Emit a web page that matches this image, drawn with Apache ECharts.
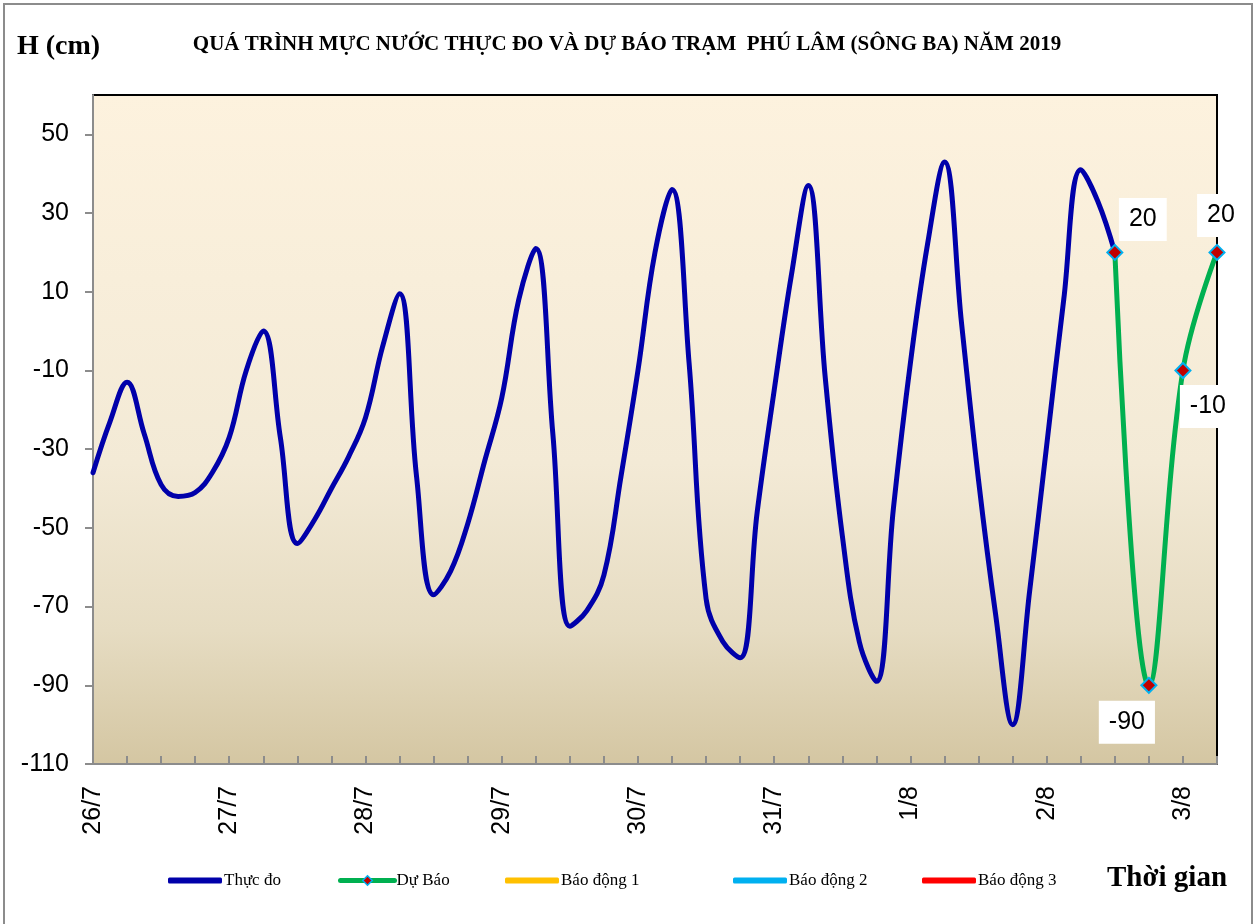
<!DOCTYPE html>
<html>
<head>
<meta charset="utf-8">
<script src="https://cdn.jsdelivr.net/npm/echarts@6/dist/echarts.min.js"></script>
<style>
  html, body { margin: 0; padding: 0; background: #fff; }
  #chart { width: 1257px; height: 924px; }
</style>
</head>
<body>
<div id="chart"></div>
<script>
// Phú Lâm (sông Ba) water level, observed + forecast, 26/7 – 3/8/2019. x = hours since 26/7 00h.
const DAY_LABELS = ["26/7", "27/7", "28/7", "29/7", "30/7", "31/7", "1/8", "2/8", "3/8"];
const Y_TICKS = [-110, -90, -70, -50, -30, -10, 10, 30, 50];

const OBS_HOURS = [0, 3, 6, 9, 12, 15, 18, 21, 24, 27, 30, 33, 36, 39, 42, 45, 48, 51, 54, 57,
  60, 63, 66, 69, 72, 75, 78, 81, 84, 87, 90, 93, 96, 99, 102, 105, 108, 111, 114, 117,
  120, 123, 126, 129, 132, 135, 138, 141, 144, 147, 150, 153, 156, 159, 162, 165, 168, 171, 174, 177, 180];
const OBS_LEVEL = [-36, -23, -13, -26, -39, -42, -41, -36, -27, -10, 0, -27, -54, -48, -40, -32, -22, -4, 9.5, -37,
  -67, -61, -49, -33, -17, 8, 21, -26, -75, -71, -62, -37, -10, 20, 36, -8, -68, -79, -83, -46,
  -15, 14, 37, -12, -52, -79, -89, -45, -8, 22, 43, 2, -38, -72, -100, -66, -29, 8, 41, 33, 20];

const FC_HOURS = [180, 186, 192, 198];
const FC_LEVEL = [20, -90, -10, 20];

const SERIES_NAMES = ["Thực đo", "Dự Báo", "Báo động 1", "Báo động 2", "Báo động 3"];
const SERIES_COLORS = ["#0000aa", "#00b050", "#ffc000", "#00b0f0", "#ff0000"];

// where each forecast value box sits relative to its marker
const FC_LABEL_OFFSET = [[28, -33], [-22, 37], [25, 36], [4, -37]];

const serif = "'Liberation Serif', 'DejaVu Serif', serif";
const sans = "'Liberation Sans', Arial, sans-serif";

const chart = echarts.init(document.getElementById("chart"));

const obsData = OBS_HOURS.map((h, i) => [h, OBS_LEVEL[i]]);
const fcData = FC_HOURS.map((h, i) => ({
  value: [h, FC_LEVEL[i]],
  label: { offset: FC_LABEL_OFFSET[i] },
}));

const legendText = { fontFamily: serif, fontSize: 17, color: "#000", padding: [0, 0, 0, -3] };
const legendAt = (i, left) => {
  const marker = i === 1;
  return {
    data: [marker ? SERIES_NAMES[i] : { name: SERIES_NAMES[i], icon: "roundRect", itemStyle: { color: SERIES_COLORS[i], borderWidth: 0 } }],
    left, top: 872, padding: 0, itemGap: 0,
    itemWidth: 54, itemHeight: marker ? 12 : 6,
    lineStyle: marker ? { width: 5, cap: "round" } : { width: 0 },
    itemStyle: marker ? { color: "#c00000", borderColor: "#00b0f0", borderWidth: 1.5 } : undefined,
    textStyle: legendText,
  };
};

chart.setOption({
  backgroundColor: "#fff",
  animation: false,
  title: {
    text: "QUÁ TRÌNH MỰC NƯỚC THỰC ĐO VÀ DỰ BÁO TRẠM  PHÚ LÂM (SÔNG BA) NĂM 2019",
    left: 622, top: 29, textAlign: "center",
    textStyle: { fontFamily: serif, fontWeight: "bold", fontSize: 21, color: "#000" },
  },
  graphic: [
    { type: "rect", shape: { x: 4, y: 4, width: 1248, height: 930 }, style: { fill: "none", stroke: "#8c8c8c", lineWidth: 2 }, silent: true },
    { type: "text", left: 17, top: 33, style: { text: "H (cm)", font: "bold 28px " + serif, fill: "#000" } },
    { type: "text", left: 1107, top: 864, style: { text: "Thời gian", font: "bold 29px " + serif, fill: "#000" } },
  ],
  legend: [legendAt(0, 168), legendAt(1, 338), legendAt(2, 505), legendAt(3, 733), legendAt(4, 922)],
  grid: {
    left: 93, right: 40, top: 95, bottom: 160, show: true,
    borderColor: "#000", borderWidth: 2,
    backgroundColor: new echarts.graphic.LinearGradient(0, 0, 0, 1, [
      { offset: 0, color: "#fdf2de" },
      { offset: 0.55, color: "#f3ead6" },
      { offset: 0.8, color: "#e6dcc2" },
      { offset: 1, color: "#d4c6a2" },
    ]),
  },
  xAxis: {
    type: "value", min: 0, max: 198, interval: 6,
    axisLine: { onZero: false, lineStyle: { color: "#8c8c8c", width: 2 } },
    axisTick: { inside: true, length: 8, lineStyle: { color: "#8c8c8c", width: 2 } },
    splitLine: { show: false },
    axisLabel: {
      rotate: 90, margin: 22, fontFamily: sans, fontSize: 25, color: "#000",
      showMinLabel: true, showMaxLabel: true,
      formatter: (h) => (h % 24 === 0 ? DAY_LABELS[h / 24] : ""),
    },
  },
  yAxis: {
    type: "value", min: -110, max: 60,
    axisLine: { show: true, lineStyle: { color: "#8c8c8c", width: 2 } },
    axisTick: { show: true, length: 8, lineStyle: { color: "#8c8c8c", width: 2 }, customValues: Y_TICKS },
    splitLine: { show: false },
    axisLabel: { margin: 24, fontFamily: sans, fontSize: 25, color: "#000", customValues: Y_TICKS },
  },
  series: [
    {
      name: SERIES_NAMES[0], type: "line", data: obsData, smooth: 0.4, symbol: "none",
      lineStyle: { color: SERIES_COLORS[0], width: 5, cap: "round" }, itemStyle: { color: SERIES_COLORS[0] }, z: 2,
    },
    {
      name: SERIES_NAMES[1], type: "line", data: fcData, smooth: 0.4,
      symbol: "diamond", symbolSize: 15, showAllSymbol: true,
      lineStyle: { color: SERIES_COLORS[1], width: 5, cap: "round" },
      itemStyle: { color: "#c00000", borderColor: "#00b0f0", borderWidth: 2 },
      label: {
        show: true, position: "inside", formatter: (p) => p.value[1],
        fontFamily: sans, fontSize: 25, color: "#000",
        backgroundColor: "#fff", padding: [8, 10, 7, 10], lineHeight: 28,
      },
      z: 3,
    },
    { name: SERIES_NAMES[2], type: "line", data: [], symbol: "none", lineStyle: { color: SERIES_COLORS[2], width: 5 }, itemStyle: { color: SERIES_COLORS[2] } },
    { name: SERIES_NAMES[3], type: "line", data: [], symbol: "none", lineStyle: { color: SERIES_COLORS[3], width: 5 }, itemStyle: { color: SERIES_COLORS[3] } },
    { name: SERIES_NAMES[4], type: "line", data: [], symbol: "none", lineStyle: { color: SERIES_COLORS[4], width: 5 }, itemStyle: { color: SERIES_COLORS[4] } },
  ],
});
</script>
</body>
</html>
